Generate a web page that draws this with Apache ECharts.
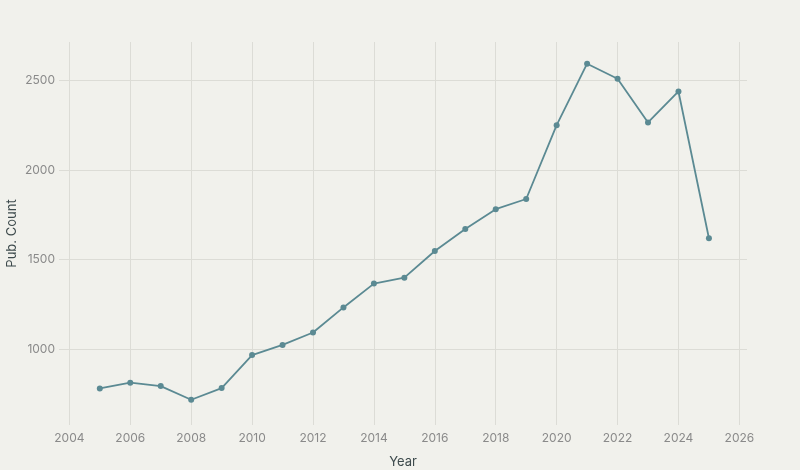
<!DOCTYPE html>
<html>
<head>
<meta charset="utf-8">
<script src="https://cdn.jsdelivr.net/npm/echarts@6/dist/echarts.min.js"></script>
<style>
  html, body { margin: 0; padding: 0; background: #f1f1ec; }
  #chart { width: 800px; height: 470px; }
</style>
</head>
<body>
<div id="chart"></div>
<script>
// 数据
var years = [2005, 2006, 2007, 2008, 2009, 2010, 2011, 2012, 2013, 2014, 2015,
  2016, 2017, 2018, 2019, 2020, 2021, 2022, 2023, 2024, 2025];
var counts = [781, 813, 794, 718, 783, 967, 1024, 1093, 1233, 1366, 1399,
  1548, 1671, 1781, 1838, 2250, 2593, 2509, 2265, 2438, 1619];
var xTicks = [2004, 2006, 2008, 2010, 2012, 2014, 2016, 2018, 2020, 2022, 2024, 2026];
var yTicks = [1000, 1500, 2000, 2500];

var chart = echarts.init(document.getElementById('chart'));

var points = years.map(function (y, i) { return [y, counts[i]]; });

var option = {
  backgroundColor: '#f1f1ec',
  textStyle: { fontFamily: 'Inter, "Noto Sans", sans-serif' },
  grid: { left: 59, right: 53, top: 42, bottom: 45, containLabel: false, outerBoundsMode: 'none' },
  xAxis: {
    type: 'value',
    min: 2003.66,
    max: 2026.25,
    name: 'Year',
    nameLocation: 'middle',
    nameGap: 31,
    nameMoveOverlap: false,
    nameTextStyle: { color: '#3d4a4c', fontSize: 13 },
    axisLine: { show: false },
    axisTick: { show: false, customValues: xTicks },
    axisLabel: {
      customValues: xTicks, color: '#8a8a8a', fontSize: 12, margin: 7,
      formatter: function (v) { return String(v); }
    },
    splitLine: { show: true, lineStyle: { color: '#dcdcd6', width: 1 } }
  },
  yAxis: {
    type: 'value',
    min: 577,
    max: 2714,
    name: 'Pub. Count',
    nameLocation: 'middle',
    nameGap: 40,
    nameMoveOverlap: false,
    nameTextStyle: { color: '#3d4a4c', fontSize: 13 },
    axisLine: { show: false },
    axisTick: { show: false, customValues: yTicks },
    axisLabel: {
      customValues: yTicks, color: '#8a8a8a', fontSize: 12, margin: 4,
      formatter: function (v) { return String(v); }
    },
    splitLine: { show: true, lineStyle: { color: '#dcdcd6', width: 1 } }
  },
  series: [{
    type: 'line',
    data: points,
    symbol: 'circle',
    symbolSize: 6,
    lineStyle: { color: '#5b8a93', width: 1.8 },
    itemStyle: { color: '#5b8a93' },
    animation: false
  }]
};

chart.setOption(option);
</script>
</body>
</html>
